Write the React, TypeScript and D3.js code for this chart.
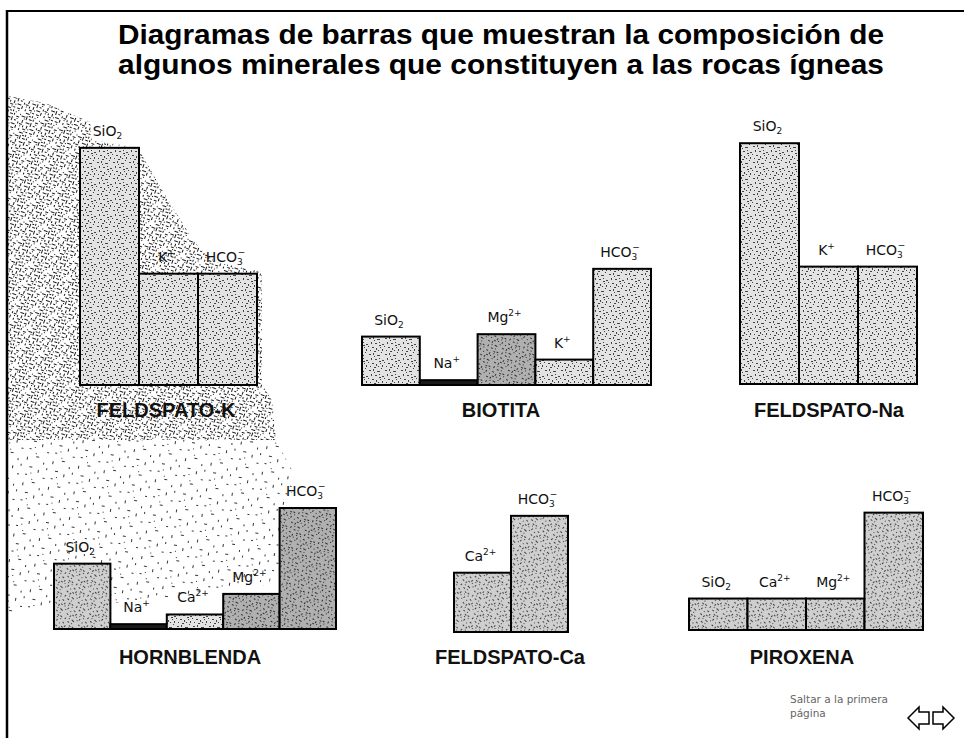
import React from 'react';
import * as d3 from 'd3';

// ---------- DATA ----------
const titleLines = [
  'Diagramas de barras que muestran la composición de',
  'algunos minerales que constituyen a las rocas ígneas',
];

const feldspatoKCats = ['SiO2', 'K+', 'HCO3-'];
const feldspatoKValues = [98, 46, 46];

const biotitaCats = ['SiO2', 'Na+', 'Mg2+', 'K+', 'HCO3-'];
const biotitaValues = [20, 2, 21, 10.5, 48];

const feldspatoNaCats = ['SiO2', 'K+', 'HCO3-'];
const feldspatoNaValues = [99.5, 48.5, 48.5];

const hornblendaCats = ['SiO2', 'Na+', 'Ca2+', 'Mg2+', 'HCO3-'];
const hornblendaValues = [27, 2, 6, 14.5, 50];

const feldspatoCaCats = ['Ca2+', 'HCO3-'];
const feldspatoCaValues = [24.5, 48];

const piroxenaCats = ['SiO2', 'Ca2+', 'Mg2+', 'HCO3-'];
const piroxenaValues = [13, 13, 13, 48.5];

const panelNames = ['FELDSPATO-K', 'BIOTITA', 'FELDSPATO-Na', 'HORNBLENDA', 'FELDSPATO-Ca', 'PIROXENA'];

const navText = ['Saltar a la primera', 'página'];

// ---------- LAYOUT ----------
const W = 964;
const H = 738;

const heightScale = d3.scaleLinear().domain([0, 100]).range([0, 242]);

type Panel = {
  name: string;
  cats: string[];
  values: number[];
  x0: number;
  x1: number;
  base: number;
  titleX: number;
  titleY: number;
  dark: string[];
  medium: string[];
};

const panels: Panel[] = [
  { name: panelNames[0], cats: feldspatoKCats, values: feldspatoKValues, x0: 80, x1: 257, base: 385, titleX: 166, titleY: 417, dark: [], medium: [] },
  { name: panelNames[1], cats: biotitaCats, values: biotitaValues, x0: 362, x1: 651, base: 385, titleX: 501, titleY: 417, dark: ['Mg2+'], medium: [] },
  { name: panelNames[2], cats: feldspatoNaCats, values: feldspatoNaValues, x0: 740, x1: 917, base: 384, titleX: 829, titleY: 417, dark: [], medium: [] },
  { name: panelNames[3], cats: hornblendaCats, values: hornblendaValues, x0: 54, x1: 336, base: 629, titleX: 190, titleY: 664, dark: ['Mg2+', 'HCO3-'], medium: ['SiO2'] },
  { name: panelNames[4], cats: feldspatoCaCats, values: feldspatoCaValues, x0: 454, x1: 568, base: 632, titleX: 510, titleY: 664, dark: [], medium: ['Ca2+', 'HCO3-'] },
  { name: panelNames[5], cats: piroxenaCats, values: piroxenaValues, x0: 689, x1: 923, base: 630, titleX: 802, titleY: 664, dark: [], medium: ['SiO2', 'Ca2+', 'Mg2+', 'HCO3-'] },
];

// formula parts for labels
const formula: Record<string, { base: string; sub?: string; sup?: string }> = {
  'SiO2': { base: 'SiO', sub: '2' },
  'K+': { base: 'K', sup: '+' },
  'HCO3-': { base: 'HCO', sub: '3', sup: '−' },
  'Na+': { base: 'Na', sup: '+' },
  'Mg2+': { base: 'Mg', sup: '2+' },
  'Ca2+': { base: 'Ca', sup: '2+' },
};

// speck marks for textures (decorative tiles)
const speckTile: [number, number, number, number][] = [
  [1, 2, 2, 1], [5, 1, 1, 2], [9, 3, 3, 1], [13, 0, 1, 1], [3, 6, 1, 2], [7, 7, 2, 1],
  [11, 6, 1, 1], [14, 8, 2, 1], [0, 10, 1, 1], [4, 11, 2, 1], [8, 12, 1, 2], [12, 11, 1, 1],
  [2, 14, 1, 1], [6, 15, 2, 1], [10, 14, 1, 1], [14, 13, 1, 2], [6, 4, 1, 1], [11, 9, 2, 1],
];
const bgTile: [number, number, number, number][] = [
  [0, 1, 4, 1], [5, 0, 1, 4], [8, 2, 3, 1], [12, 1, 1, 2], [15, 3, 3, 1], [2, 5, 1, 3],
  [6, 6, 4, 1], [11, 5, 1, 4], [14, 7, 2, 1], [0, 9, 3, 1], [4, 10, 1, 2], [8, 9, 1, 3],
  [12, 11, 4, 1], [17, 12, 1, 3], [1, 14, 1, 2], [5, 13, 3, 1], [9, 15, 2, 1], [13, 15, 3, 1],
  [3, 17, 4, 1], [10, 18, 1, 2], [15, 17, 1, 1], [7, 19, 2, 1], [18, 8, 1, 2], [18, 0, 1, 1],
  [3, 3, 1, 1], [10, 12, 1, 1], [16, 5, 1, 1], [1, 11, 1, 1], [13, 19, 1, 1], [7, 15, 1, 1],
];
const sparseTile: [number, number, number, number][] = [
  [2, 3, 1, 3], [11, 1, 3, 1], [19, 6, 1, 2], [6, 12, 3, 1], [15, 14, 1, 3], [3, 20, 2, 1],
  [21, 21, 2, 1], [10, 24, 1, 1], [23, 11, 1, 2], [8, 18, 1, 1],
];

const densePoly: [number, number][] = [
  [8, 96], [45, 103], [90, 122], [92, 140], [138, 148], [165, 195], [195, 243], [215, 262], [262, 272],
  [262, 385], [272, 400], [276, 440], [8, 440],
];
const sparsePoly: [number, number][] = [
  [8, 440], [276, 440], [292, 470], [290, 540], [268, 585], [150, 600], [8, 612],
];

function Label({ cat, x, y }: { cat: string; x: number; y: number }) {
  const f = formula[cat];
  return (
    <text x={x} y={y} textAnchor="middle" fontFamily="'DejaVu Sans', Verdana, sans-serif" fontSize={14} fill="#111">
      {f.base}
      {f.sub && <tspan fontSize={9} dy={3}>{f.sub}</tspan>}
      {f.sup && (
        <tspan fontSize={9} dx={f.sub ? -5 : 0} dy={f.sub ? -10 : -6}>{f.sup}</tspan>
      )}
    </text>
  );
}

function PanelChart({ p }: { p: Panel }) {
  const x = d3.scaleBand<string>().domain(p.cats).range([p.x0, p.x1]).padding(0);
  return (
    <g>
      {p.cats.map((c, i) => {
        const h = heightScale(p.values[i]);
        const isNa = c === 'Na+';
        const fill = isNa ? '#1a1a1a' : p.dark.includes(c) ? 'url(#barDark)' : p.medium.includes(c) ? 'url(#barMed)' : 'url(#barLight)';
        return (
          <rect key={c} x={x(c)} y={p.base - h} width={x.bandwidth()} height={h}
            fill={fill} stroke="#000" strokeWidth={2} />
        );
      })}
      <line x1={p.x0} x2={p.x1} y1={p.base} y2={p.base} stroke="#000" strokeWidth={2} />
      {p.cats.map((c, i) => {
        const h = heightScale(p.values[i]);
        return <Label key={c} cat={c} x={(x(c) as number) + x.bandwidth() / 2 - 2} y={p.base - h - 12} />;
      })}
      <text x={p.titleX} y={p.titleY} textAnchor="middle" fontFamily="'Liberation Sans', Arial, sans-serif"
        fontWeight="bold" fontSize={20} fill="#111">{p.name}</text>
    </g>
  );
}

function tile(id: string, size: number, marks: [number, number, number, number][], base: string, ink: string, op: number, rot = 0) {
  return (
    <pattern id={id} width={size} height={size} patternUnits="userSpaceOnUse" patternTransform={rot ? `rotate(${rot})` : undefined}>
      <rect width={size} height={size} fill={base} />
      {marks.map((m, i) => (
        <rect key={i} x={m[0]} y={m[1]} width={m[2]} height={m[3]} fill={ink} opacity={op} />
      ))}
    </pattern>
  );
}

export default function App() {
  const poly = (pts: [number, number][]) => pts.map((p) => p.join(',')).join(' ');
  return (
    <svg width={W} height={H} style={{ position: 'absolute', left: 0, top: 0, background: '#fff' }}>
      <defs>
        {tile('barLight', 16, speckTile, '#e3e3e3', '#333', 0.9)}
        {tile('barMed', 16, speckTile, '#cfcfcf', '#333', 0.9, 45)}
        {tile('barDark', 16, speckTile, '#b0b0b0', '#222', 0.9, 30)}
        {tile('bgDense', 20, bgTile, '#ffffff', '#000', 0.9, 20)}
        {tile('bgSparse', 26, sparseTile, '#ffffff', '#111', 0.85, 10)}
      </defs>
      <rect width={W} height={H} fill="#fff" />

      {/* scanned background texture */}
      <polygon points={poly(densePoly)} fill="url(#bgDense)" />
      <polygon points={poly(sparsePoly)} fill="url(#bgSparse)" />

      {/* frame */}
      <line x1={7} x2={W} y1={11} y2={11} stroke="#000" strokeWidth={2} />
      <line x1={7} x2={7} y1={10} y2={H} stroke="#000" strokeWidth={2.5} />

      {/* title */}
      {titleLines.map((t, i) => (
        <text key={i} x={501} y={44 + i * 30} textAnchor="middle" fontFamily="'Liberation Sans', Arial, sans-serif"
          fontWeight="bold" fontSize={28} textLength={766} lengthAdjust="spacingAndGlyphs" fill="#000">{t}</text>
      ))}

      {panels.map((p) => <PanelChart key={p.name} p={p} />)}

      {/* navigation */}
      {navText.map((t, i) => (
        <text key={i} x={790} y={703 + i * 14} fontFamily="'DejaVu Sans', Verdana, sans-serif" fontSize={10.5} fill="#666">{t}</text>
      ))}
      <polygon points="908,718 919,707 919,712 929,712 929,724 919,724 919,729" fill="#fff" stroke="#000" strokeWidth={1.5} />
      <polygon points="954,718 943,707 943,712 933,712 933,724 943,724 943,729" fill="#fff" stroke="#000" strokeWidth={1.5} />
    </svg>
  );
}
